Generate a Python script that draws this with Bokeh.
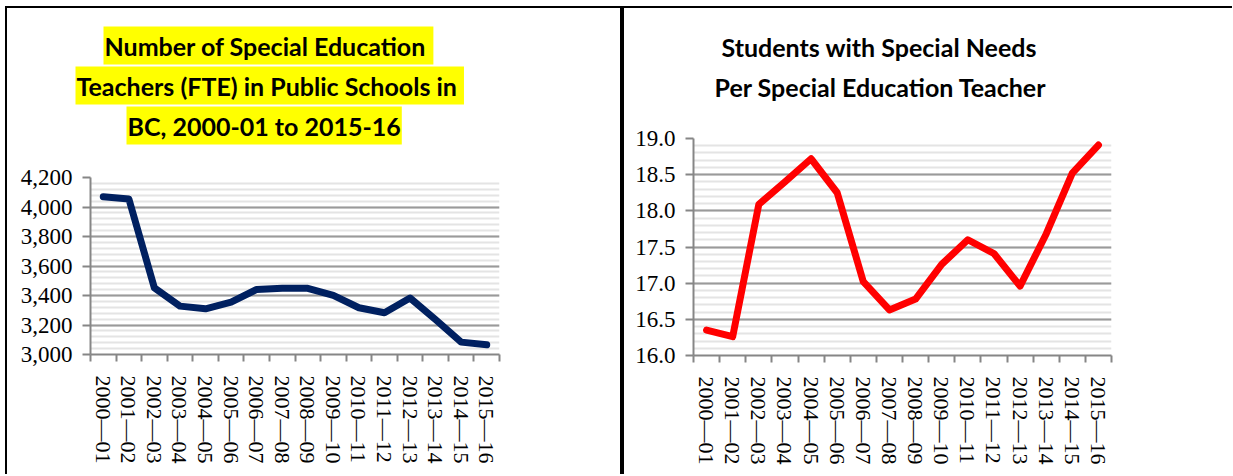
from bokeh.plotting import figure
from bokeh.models import (Title, FixedTicker, NumeralTickFormatter, Div, Range1d)
from bokeh.layouts import row, column
from bokeh.embed import file_html
from bokeh.resources import INLINE

years = ["2000—01", "2001—02", "2002—03", "2003—04", "2004—05", "2005—06",
         "2006—07", "2007—08", "2008—09", "2009—10", "2010—11", "2011—12",
         "2012—13", "2013—14", "2014—15", "2015—16"]
teachers = [4069, 4055, 3451, 3328, 3310, 3355, 3441, 3449, 3449, 3401,
            3317, 3283, 3383, 3236, 3084, 3066]
ratio = [16.35, 16.26, 18.09, 18.40, 18.72, 18.25, 17.02, 16.63, 16.78, 17.26,
         17.60, 17.41, 16.96, 17.68, 18.52, 18.91]

left_title = ["Number of Special Education ", "Teachers (FTE) in Public Schools in ",
              "BC, 2000-01 to 2015-16"]
right_title = ["Students with Special Needs", "Per Special Education Teacher"]

TITLE_FONT = "Lato"
AX_FONT = "Liberation Serif"

xs = list(range(1, len(years) + 1))


def make(width, height, ystart, yend, ystep, fmt, vals, color, titles, offsets,
         highlight, bl, br, bt, bb, **extra):
    p = figure(width=width, height=height, output_backend="svg", toolbar_location=None,
               x_range=Range1d(0.5, len(years) + 0.5), y_range=Range1d(ystart, yend),
               min_border_left=bl, min_border_right=br, min_border_top=bt,
               min_border_bottom=bb, **extra)
    p.outline_line_color = None
    p.background_fill_color = "white"
    p.border_fill_color = "white"
    # invisible spacer between the plot frame and the title block
    p.add_layout(Title(text=" ", text_font_size="1px", standoff=30), "above")
    n = len(titles)
    for i in reversed(range(n)):
        kw = {}
        if highlight:
            kw["background_fill_color"] = "#ffff00"
        p.add_layout(Title(text=titles[i], align="left", offset=offsets[i],
                           text_font=TITLE_FONT, text_font_size="25px",
                           text_font_style="bold", text_color="black",
                           standoff=0, padding=(1, 4), **kw), "above")
    p.line(xs, vals, line_color=color, line_width=7, line_join="round", line_cap="round")

    xa = p.xaxis[0]
    xa.ticker = FixedTicker(ticks=xs, minor_ticks=[i + 0.5 for i in range(0, len(years) + 1)])
    xa.major_label_overrides = {i: y for i, y in zip(xs, years)}
    xa.major_label_orientation = "vertical"
    xa.major_tick_line_color = None
    xa.major_tick_out = 7
    xa.major_tick_in = 0
    xa.minor_tick_line_color = "#868686"
    xa.minor_tick_line_width = 2
    xa.minor_tick_out = 7
    xa.minor_tick_in = 0
    xa.axis_line_color = "#868686"
    xa.axis_line_width = 2
    xa.major_label_standoff = 14
    xa.major_label_text_font = AX_FONT
    xa.major_label_text_font_size = "22px"
    xa.major_label_text_color = "black"

    ya = p.yaxis[0]
    ticks = []
    v = ystart
    while v <= yend + 1e-9:
        ticks.append(round(v, 4))
        v += ystep
    minor = []
    v = ystart
    while v <= yend + 1e-9:
        minor.append(round(v, 4))
        v += ystep / 5
    ya.ticker = FixedTicker(ticks=ticks, minor_ticks=minor)
    ya.formatter = NumeralTickFormatter(format=fmt)
    ya.major_tick_out = 8
    ya.major_tick_in = 0
    ya.major_tick_line_color = "#868686"
    ya.major_tick_line_width = 2
    ya.minor_tick_line_color = None
    ya.axis_line_color = "#868686"
    ya.axis_line_width = 2
    ya.major_label_standoff = 10
    ya.major_label_text_font = AX_FONT
    ya.major_label_text_font_size = "23px"
    ya.major_label_text_color = "black"

    p.xgrid.grid_line_color = None
    p.ygrid.grid_line_color = "#9a9a9a"
    p.ygrid.grid_line_width = 2
    p.ygrid.minor_grid_line_color = "#e4e4e4"
    p.ygrid.minor_grid_line_width = 2
    return p


p1 = make(613, 466, 3000, 4200, 200, "0,0", teachers, "#002060", left_title,
          [13, -15, 36], True, 83, 121, 169, 120)
# right chart is its own root (so its frame is not aligned to the left one)
p2 = make(608, 466, 16.0, 19.0, 0.5, "0.0", ratio, "#ff0000", right_title,
          [27, 20], False, 69, 121, 130, 119,
          styles={"position": "absolute", "left": "624px", "top": "8px"})

top = Div(text="", width=1227, height=2, margin=0, styles={"background-color": "black"})
lb = Div(text="", width=2, height=466, margin=0, styles={"background-color": "black"})
sep = Div(text="", width=4, height=466, margin=0, styles={"background-color": "black"})

left = column(top, row(lb, p1, sep, spacing=0), spacing=0, margin=(6, 0, 0, 5))

open("out.html", "w").write(file_html([left, p2], INLINE))
